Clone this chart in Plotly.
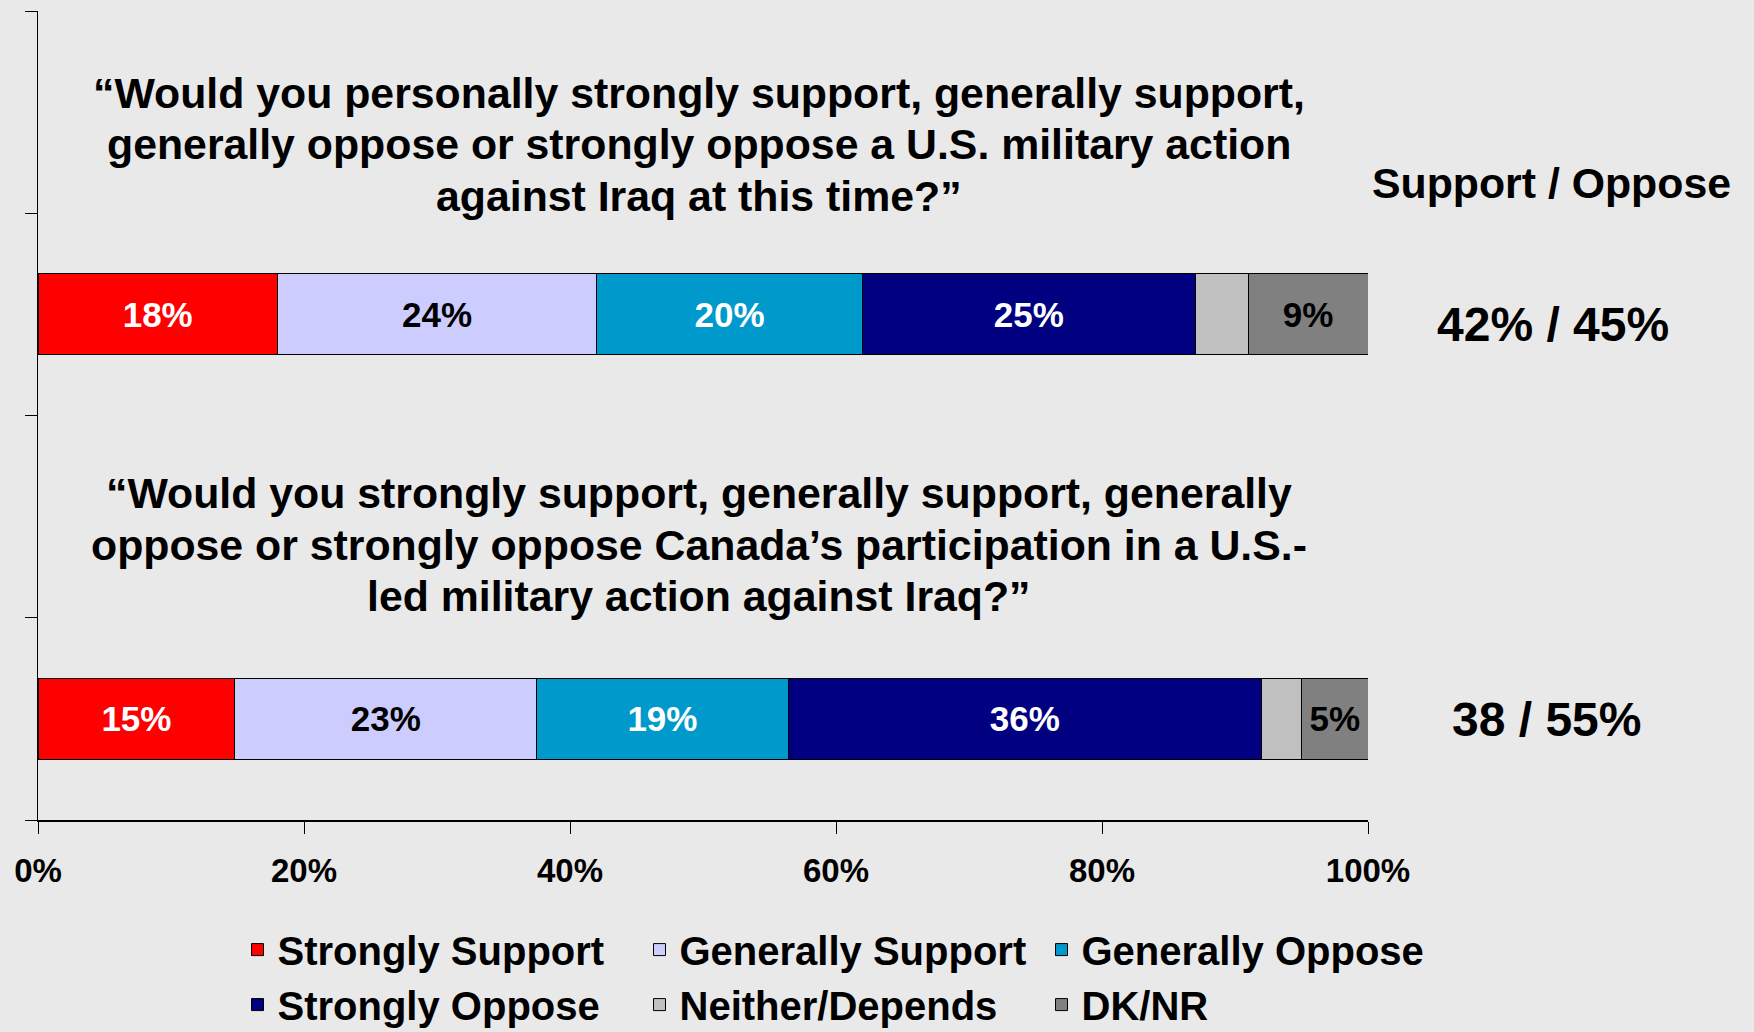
import plotly.graph_objects as go

# ---- data ----
series_names = ["Strongly Support", "Generally Support", "Generally Oppose",
                "Strongly Oppose", "Neither/Depends", "DK/NR"]
series_colors = ["#FF0000", "#CCCCFF", "#0099CC", "#000080", "#C0C0C0", "#808080"]
label_colors = ["white", "black", "white", "white", "black", "black"]

# values for [Canada participation (bottom), U.S. action (top)]
strongly_support = [14.8, 18.0]
generally_support = [22.7, 24.0]
generally_oppose = [18.9, 20.0]
strongly_oppose = [35.6, 25.0]
neither_depends = [3.0, 4.0]
dk_nr = [5.0, 9.0]

strongly_support_lbl = ["15%", "18%"]
generally_support_lbl = ["23%", "24%"]
generally_oppose_lbl = ["19%", "20%"]
strongly_oppose_lbl = ["36%", "25%"]
neither_depends_lbl = ["", ""]
dk_nr_lbl = ["5%", "9%"]

bar_positions = [0, 2]   # category slots: 0 = Canada bar, 2 = U.S. bar

x_ticks = [0, 20, 40, 60, 80, 100]

question_1_lines = ["“Would you personally strongly support, generally support,",
                    "generally oppose or strongly oppose a U.S. military action",
                    "against Iraq at this time?”"]
question_2_lines = ["“Would you strongly support, generally support, generally",
                    "oppose or strongly oppose Canada’s participation in a U.S.-",
                    "led military action against Iraq?”"]
side_header = "Support / Oppose"
side_values = ["42% / 45%", "38 / 55%"]

values = [strongly_support, generally_support, generally_oppose,
          strongly_oppose, neither_depends, dk_nr]
labels = [strongly_support_lbl, generally_support_lbl, generally_oppose_lbl,
          strongly_oppose_lbl, neither_depends_lbl, dk_nr_lbl]

FONT = "Liberation Sans, Arial, sans-serif"
BG = "#e9e9e9"

fig = go.Figure()
for name, col, lc, vals, lbls in zip(series_names, series_colors, label_colors, values, labels):
    fig.add_trace(go.Bar(
        name=name,
        x=vals,
        y=bar_positions,
        orientation="h",
        width=0.4,
        marker=dict(color=col, line=dict(color="black", width=1)),
        text=lbls,
        textposition="inside",
        insidetextanchor="middle",
        textangle=0,
        constraintext="none",
        textfont=dict(family=FONT, size=35, color=lc, weight="bold"),
        hoverinfo="skip",
    ))

fig.update_layout(
    width=1754, height=1032,
    barmode="stack",
    paper_bgcolor=BG,
    plot_bgcolor="rgba(0,0,0,0)",
    margin=dict(l=38, r=386, t=11, b=212, autoexpand=False),
    font=dict(family=FONT, color="black"),
    showlegend=True,
    legend=dict(
        orientation="h",
        x=0.150, xanchor="left",
        y=-0.120, yanchor="top",
        traceorder="normal",
        entrywidth=357, entrywidthmode="pixels",
        font=dict(family=FONT, size=40, color="black", weight="bold"),
        bgcolor="rgba(0,0,0,0)",
        itemclick=False, itemdoubleclick=False,
    ),
    xaxis=dict(
        range=[0, 100],
        tickvals=x_ticks,
        ticktext=[f"{v}%" for v in x_ticks],
        ticks="outside", ticklen=12, tickwidth=1, tickcolor="black",
        showline=True, linecolor="black", linewidth=2,
        showgrid=False, zeroline=False,
        tickfont=dict(family=FONT, size=33, color="black", weight="bold"),
        ticklabelstandoff=8,
        fixedrange=True,
    ),
    yaxis=dict(
        range=[-0.5, 3.5],
        tickvals=[-0.5, 0.5, 1.5, 2.5, 3.5],
        showticklabels=False,
        ticks="outside", ticklen=12, tickwidth=1, tickcolor="black",
        showline=True, linecolor="black", linewidth=1,
        showgrid=False, zeroline=False,
        fixedrange=True,
    ),
)

def ann(text, x, y, size):
    fig.add_annotation(
        text=text, x=x, y=y, xref="paper", yref="paper",
        xanchor="center", yanchor="middle", showarrow=False,
        align="center",
        font=dict(family=FONT, size=size, color="black", weight="bold"),
    )

for line, yy in zip(question_1_lines, [0.8986, 0.8356, 0.7713]):
    ann(line, 0.497, yy, 42.8)
for line, yy in zip(question_2_lines, [0.4042, 0.3399, 0.2769]):
    ann(line, 0.497, yy, 42.8)
ann(side_header, 1.138, 0.787, 42.8)
ann(side_values[0], 1.139, 0.612, 48)
ann(side_values[1], 1.134, 0.124, 48)

fig.write_html(
    "out.html",
    config={"displayModeBar": False},
    post_script=("document.body.style.margin='0';"
                 "document.body.style.padding='0';"
                 "document.body.style.background='" + BG + "';"
                 "document.documentElement.style.background='" + BG + "';"),
)
